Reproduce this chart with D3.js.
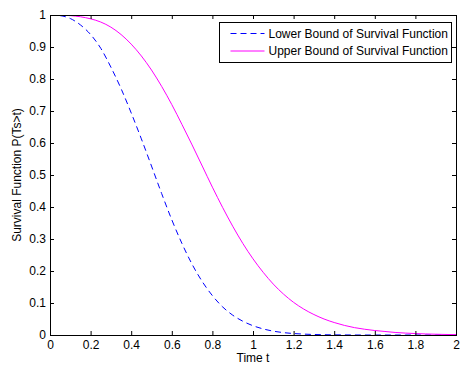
<!DOCTYPE html>
<html>
<head>
<meta charset="utf-8">
<script src="https://cdn.jsdelivr.net/npm/d3@7"></script>
<style>
  body { margin: 0; background: #fff; }
  svg text { font-family: "Liberation Sans", Arial, sans-serif; font-size: 12px; fill: #000; }
</style>
</head>
<body>
<svg id="chart" width="460" height="366"></svg>
<script>
// time grid (values every 0.05)
var times = [0, 0.05, 0.1, 0.15, 0.2, 0.25, 0.3, 0.35, 0.4, 0.45, 0.5, 0.55, 0.6, 0.65, 0.7,
    0.75, 0.8, 0.85, 0.9, 0.95, 1.0, 1.05, 1.1, 1.15, 1.2, 1.25, 1.3, 1.35, 1.4, 1.45, 1.5,
    1.55, 1.6, 1.65, 1.7, 1.75, 1.8, 1.85, 1.9, 1.95, 2.0];

var lowerBound = [1.000, 0.998, 0.989, 0.969, 0.939, 0.896, 0.837, 0.770, 0.694, 0.613, 0.528,
    0.442, 0.360, 0.286, 0.221, 0.167, 0.123, 0.088, 0.062, 0.043, 0.029, 0.019, 0.012,
    0.0075, 0.0046, 0.0028, 0.0016, 0.0009, 0.0005, 0.0003, 0.0001, 0, 0, 0, 0,
    0, 0, 0, 0, 0, 0];

var upperBound = [1.000, 0.9997, 0.998, 0.9945, 0.988, 0.978, 0.962, 0.939, 0.909, 0.872, 0.828,
    0.777, 0.720, 0.658, 0.594, 0.528, 0.462, 0.399, 0.340, 0.286, 0.238, 0.196, 0.159,
    0.128, 0.102, 0.081, 0.064, 0.050, 0.039, 0.030, 0.023, 0.018, 0.014, 0.011, 0.008,
    0.006, 0.0045, 0.0033, 0.0024, 0.0017, 0.0012];

var xTicks = [0, 0.2, 0.4, 0.6, 0.8, 1, 1.2, 1.4, 1.6, 1.8, 2];
var yTicks = [0, 0.1, 0.2, 0.3, 0.4, 0.5, 0.6, 0.7, 0.8, 0.9, 1];

var seriesNames = ['Lower Bound of Survival Function', 'Upper Bound of Survival Function'];

(function() {
    var svg = d3.select('#chart');
    var x0 = 50, x1 = 456, y0 = 15, y1 = 335;

    var x = d3.scaleLinear().domain([0, 2]).range([x0, x1]);
    var y = d3.scaleLinear().domain([0, 1]).range([y1, y0]);

    var series = [
        {name: seriesNames[0], values: lowerBound, color: '#0000ff', dash: '6,4'},
        {name: seriesNames[1], values: upperBound, color: '#ff00ff', dash: null}
    ];

    // lines, clipped to the axes
    svg.append('clipPath').attr('id', 'plotclip')
      .append('rect')
        .attr('x', x0).attr('y', y0)
        .attr('width', x1 - x0).attr('height', y1 - y0);

    var line = d3.line()
        .x(function(d) { return x(d[0]); })
        .y(function(d) { return y(d[1]); })
        .curve(d3.curveMonotoneX);

    svg.append('g').attr('clip-path', 'url(#plotclip)')
      .selectAll('path.series')
        .data(series)
      .enter().append('path')
        .classed('series', true)
        .attr('fill', 'none')
        .attr('stroke', function(s) { return s.color; })
        .attr('stroke-width', 1)
        .attr('stroke-dasharray', function(s) { return s.dash; })
        .attr('d', function(s) {
            return line(times.map(function(t, i) { return [t, s.values[i]]; }));
        });

    // axes: inward ticks on all four sides, like a boxed matlab axes
    var tickLen = 4;
    function noDomain(g) { g.select('.domain').remove(); }

    svg.append('g').attr('transform', 'translate(0,' + y1 + ')')
        .call(d3.axisBottom(x).tickValues(xTicks).tickSize(-tickLen).tickPadding(5).tickFormat(d3.format('')))
        .call(noDomain);
    svg.append('g').attr('transform', 'translate(0,' + y0 + ')')
        .call(d3.axisTop(x).tickValues(xTicks).tickSize(-tickLen).tickFormat(''))
        .call(noDomain);
    svg.append('g').attr('transform', 'translate(' + x0 + ',0)')
        .call(d3.axisLeft(y).tickValues(yTicks).tickSize(-tickLen).tickPadding(4).tickFormat(d3.format('')))
        .call(noDomain);
    svg.append('g').attr('transform', 'translate(' + x1 + ',0)')
        .call(d3.axisRight(y).tickValues(yTicks).tickSize(-tickLen).tickFormat(''))
        .call(noDomain);

    svg.selectAll('.tick text')
        .attr('font-size', 12)
        .attr('font-family', '"Liberation Sans", Arial, sans-serif');

    svg.append('rect')
        .attr('x', x0).attr('y', y0)
        .attr('width', x1 - x0).attr('height', y1 - y0)
        .attr('fill', 'none').attr('stroke', '#000').attr('stroke-width', 1)
        .attr('shape-rendering', 'crispEdges');

    // axis labels
    svg.append('text')
        .attr('x', (x0 + x1) / 2).attr('y', 362)
        .attr('text-anchor', 'middle')
        .text('Time t');
    svg.append('text')
        .attr('transform', 'translate(21,' + ((y0 + y1) / 2) + ') rotate(-90)')
        .attr('text-anchor', 'middle')
        .text('Survival Function P(Ts>t)');

    // legend
    var legend = svg.append('g').attr('transform', 'translate(219.5,22.5)');
    legend.append('rect')
        .attr('width', 232).attr('height', 40)
        .attr('fill', '#fff').attr('stroke', '#000').attr('stroke-width', 1);
    var entry = legend.selectAll('g.entry')
        .data(series)
      .enter().append('g')
        .classed('entry', true)
        .attr('transform', function(s, i) { return 'translate(0,' + (11 + i * 17.5) + ')'; });
    entry.append('line')
        .attr('x1', 11).attr('x2', 45)
        .attr('stroke', function(s) { return s.color; })
        .attr('stroke-dasharray', function(s) { return s.dash; });
    entry.append('text')
        .attr('x', 49).attr('dy', '0.35em')
        .attr('font-size', 11.6)
        .text(function(s) { return s.name; });
})();
</script>
</body>
</html>
